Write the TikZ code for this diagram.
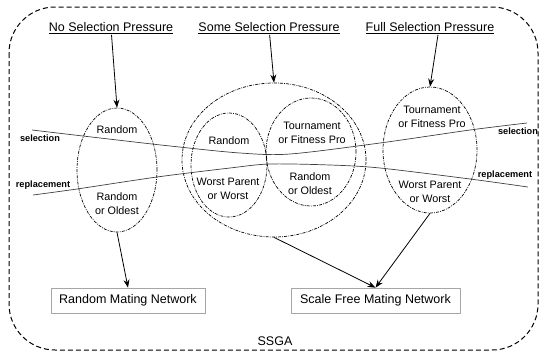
\documentclass[tikz,border=0pt]{standalone}
\usepackage{fontspec}
\setmainfont{Liberation Sans}
\usetikzlibrary{shapes.geometric,arrows.meta}
\begin{document}
\begin{tikzpicture}[x=1pt,y=-1pt,
 ell/.style={ellipse,draw,line width=0.7pt,dash pattern=on 3pt off 1.2pt on 0.8pt off 1.2pt,inner sep=0pt},
 ttl/.style={font=\fontsize{12.5}{15}\selectfont,inner sep=1pt},
 txt/.style={font=\fontsize{10.8}{14}\selectfont,align=center,inner sep=0pt},
 lbl/.style={font=\fontsize{9.2}{11}\selectfont\bfseries,inner sep=0pt},
 box/.style={draw=gray!70,line width=0.7pt,minimum width=154pt,minimum height=25pt,font=\fontsize{12.5}{15}\selectfont,inner sep=0pt},
 arr/.style={-{Stealth[length=8pt,width=6pt]},line width=0.8pt},
 crv/.style={line width=0.7pt,draw=black!75}]
\useasboundingbox (0,0) rectangle (540,354);
\draw[dash pattern=on 5pt off 3pt,line width=1pt,rounded corners=46pt] (9,7) rectangle (538,350);

\node[ttl] (t1) at (111,28) {\underline{No Selection Pressure}};
\node[ttl] (t2) at (269,28) {\underline{Some Selection Pressure}};
\node[ttl] (t3) at (430,28) {\underline{Full Selection Pressure}};

\node[ell,minimum width=80pt,minimum height=124pt] (L) at (117,170) {};
\node[ell,minimum width=184pt,minimum height=154pt] (M) at (274,160) {};
\node[ell,minimum width=76pt,minimum height=104pt] (Ma) at (229,165) {};
\node[ell,minimum width=90pt,minimum height=108pt] (Mb) at (311,152) {};
\node[ell,minimum width=94pt,minimum height=126pt] (R) at (430,150) {};

\node[txt] (l1) at (117,130) {Random};
\node[txt] (l2) at (117,204) {Random\\or Oldest};
\node[txt] (a1) at (229,141) {Random};
\node[txt] (a2) at (228,189) {Worst Parent\\or Worst};
\node[txt] (b1) at (312,133) {Tournament\\or Fitness Pro};
\node[txt] (b2) at (310,184) {Random\\or Oldest};
\node[txt] (r1) at (432,117) {Tournament\\or Fitness Pro};
\node[txt] (r2) at (430,192) {Worst Parent\\or Worst};

\node[lbl] (s1) at (40,138) {selection};
\node[lbl] (s2) at (518,131) {selection};
\node[lbl] (p1) at (43,185) {replacement};
\node[lbl] (p2) at (505,175) {replacement};

\draw[crv] plot[smooth] coordinates {(32,130) (100,138) (170,146) (240,153) (290,154) (380,143) (470,130) (527,123)};
\draw[crv] plot[smooth] coordinates {(33,195) (77,189) (157,177) (230,168) (270,164) (330,165) (380,168) (470,179) (528,187)};

\node[box] (RM) at (128,300.5) {Random Mating Network};
\node[box,minimum width=169pt] (SF) at (375.5,300.5) {Scale Free Mating Network};
\node[ttl] (ss) at (275,341) {SSGA};

\draw[arr] (t1) -- (L.north);
\draw[arr] (t2) -- (M.north);
\draw[arr] ([xshift=8pt]t3.south) -- (R.north);
\draw[arr] (L.south) -- (RM.north);
\draw[arr] (M.south) -- (SF.north);
\draw[arr] (R.south) -- (SF.north);
\end{tikzpicture}
\end{document}
